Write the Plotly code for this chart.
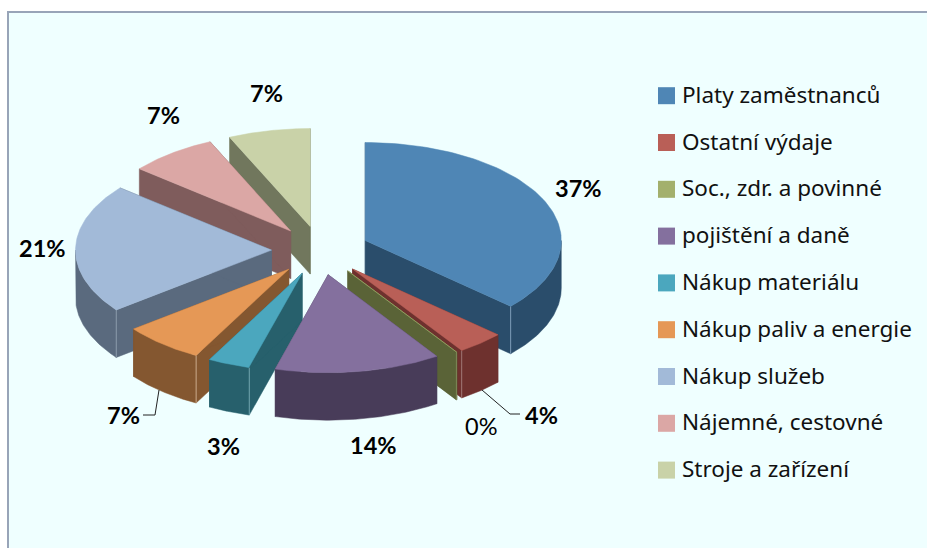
import numpy as np
import plotly.graph_objects as go

categories = ["Platy zaměstnanců", "Ostatní výdaje", "Soc., zdr. a povinné", "pojištění a daně",
              "Nákup materiálu", "Nákup paliv a energie", "Nákup služeb", "Nájemné, cestovné", "Stroje a zařízení"]
values = [36.7, 3.9, 0.05, 13.7, 3.49, 6.71, 21.4, 7.3, 6.75]
top_colors = ["#4F86B5", "#B95F57", "#A3B06D", "#84709E", "#4BA7BE", "#E59856", "#A2BAD8", "#DBA7A5", "#C9D2A8"]
side_colors = ["#2A4D6B", "#6E312E", "#5A6337", "#483C59", "#27606C", "#845730", "#5A6A7E", "#7F5C5C", "#71775D"]
edge_colors = ["#7D9CB8", "#A07875", "#7F8A5A", "#6E6285", "#6FA3AE", "#C9A98A", "#8B9AAB", "#A08888", "#969C80"]
label_xy = [(578, 188), (541, 415), (481, 426), (373, 445), (223, 446), (123, 415), (42, 248), (163, 115), (266, 93)]
label_bold = [True, True, False, True, True, True, True, True, True]

W, H = 927, 548
CX, CY, RX, RY, DEPTH, EXPLODE = 320.5, 250.5, 196, 98, 47.5, 49
FONT = "Lato"
LEGEND_FONT = "Noto Sans"

total = sum(values)
fracs = np.array(values) / total
cum = np.concatenate([[0], np.cumsum(fracs)]) * 2 * np.pi


def ell(ang, ax, ay):
    return ax + RX * np.sin(ang), ay - RY * np.cos(ang)


fig = go.Figure()


def poly(xs, ys, color):
    fig.add_trace(go.Scatter(x=list(xs), y=list(ys), mode="lines", fill="toself", fillcolor=color,
                             line=dict(color=color, width=0.5), hoverinfo="skip", showlegend=False))


slices = []
for i in range(len(values)):
    a0, a1 = cum[i], cum[i + 1]
    mid = (a0 + a1) / 2
    ax = CX + EXPLODE * np.sin(mid)
    ay = CY - EXPLODE * 0.5 * np.cos(mid)
    slices.append((ay, i, a0, a1, ax))

for ay, i, a0, a1, ax in sorted(slices, key=lambda s: s[0]):
    # radial walls
    for a in (a0, a1):
        px, py = ell(a, ax, ay)
        poly([ax, px, px, ax, ax], [ay, py, py + DEPTH, ay + DEPTH, ay], side_colors[i])
    # outer curved side (front half only)
    lo, hi = max(a0, np.pi / 2), min(a1, 3 * np.pi / 2)
    if hi > lo:
        t = np.linspace(lo, hi, 60)
        ox, oy = ell(t, ax, ay)
        poly(np.r_[ox, ox[::-1], ox[0]], np.r_[oy, oy[::-1] + DEPTH, oy[0]], side_colors[i])
    # light edge where a wall meets the curved side
    for a, show in ((a1, np.pi / 2 < a1 < np.pi), (a0, np.pi < a0 < 1.5 * np.pi)):
        if show:
            px, py = ell(a, ax, ay)
            fig.add_trace(go.Scatter(x=[px, px], y=[py, py + DEPTH], mode="lines",
                                     line=dict(color=edge_colors[i], width=1),
                                     hoverinfo="skip", showlegend=False))
    # top surface
    t = np.linspace(a0, a1, 80)
    tx, ty = ell(t, ax, ay)
    poly(np.r_[ax, tx, ax], np.r_[ay, ty, ay], top_colors[i])

# leader lines
for lx, ly in (([482, 510, 520], [390, 414, 414]), ([159, 155, 143], [390, 415, 415])):
    fig.add_trace(go.Scatter(x=lx, y=ly, mode="lines", line=dict(color="#222222", width=1),
                             hoverinfo="skip", showlegend=False))

# percentage labels
for i, (lx, ly) in enumerate(label_xy):
    fig.add_annotation(x=lx, y=ly, text=f"{round(values[i])}%", showarrow=False, xanchor="center", yanchor="middle",
                       font=dict(family=FONT, size=23.5, color="#000000",
                                 weight="bold" if label_bold[i] else "normal"))

# legend
LEG_X, LEG_Y, LEG_STEP = 666.5, 95.7, 46.8
ly = [LEG_Y + LEG_STEP * k for k in range(len(categories))]
fig.add_trace(go.Scatter(x=[LEG_X] * len(categories), y=ly, mode="markers",
                         marker=dict(symbol="square", size=17, color=top_colors, line=dict(width=0)),
                         hoverinfo="skip", showlegend=False))
for name, y in zip(categories, ly):
    fig.add_annotation(x=680, y=y - 1.5, text=name, showarrow=False, xanchor="left", yanchor="middle",
                       font=dict(family=LEGEND_FONT, size=22.5, color="#111111"))

fig.update_layout(
    width=W, height=H, margin=dict(l=0, r=0, t=0, b=0),
    paper_bgcolor="#FFFFFF", plot_bgcolor="#FFFFFF", showlegend=False,
    xaxis=dict(range=[0, W], visible=False, fixedrange=True),
    yaxis=dict(range=[H, 0], visible=False, fixedrange=True),
    shapes=[dict(type="rect", xref="x", yref="y", x0=8, y0=12, x1=W + 5, y1=H + 5, layer="below",
                 fillcolor="#EFFFFF", line=dict(color="#98A4B8", width=2))],
)
fig.write_html("out.html", post_script="document.body.style.margin='0';", config=dict(displayModeBar=False))
